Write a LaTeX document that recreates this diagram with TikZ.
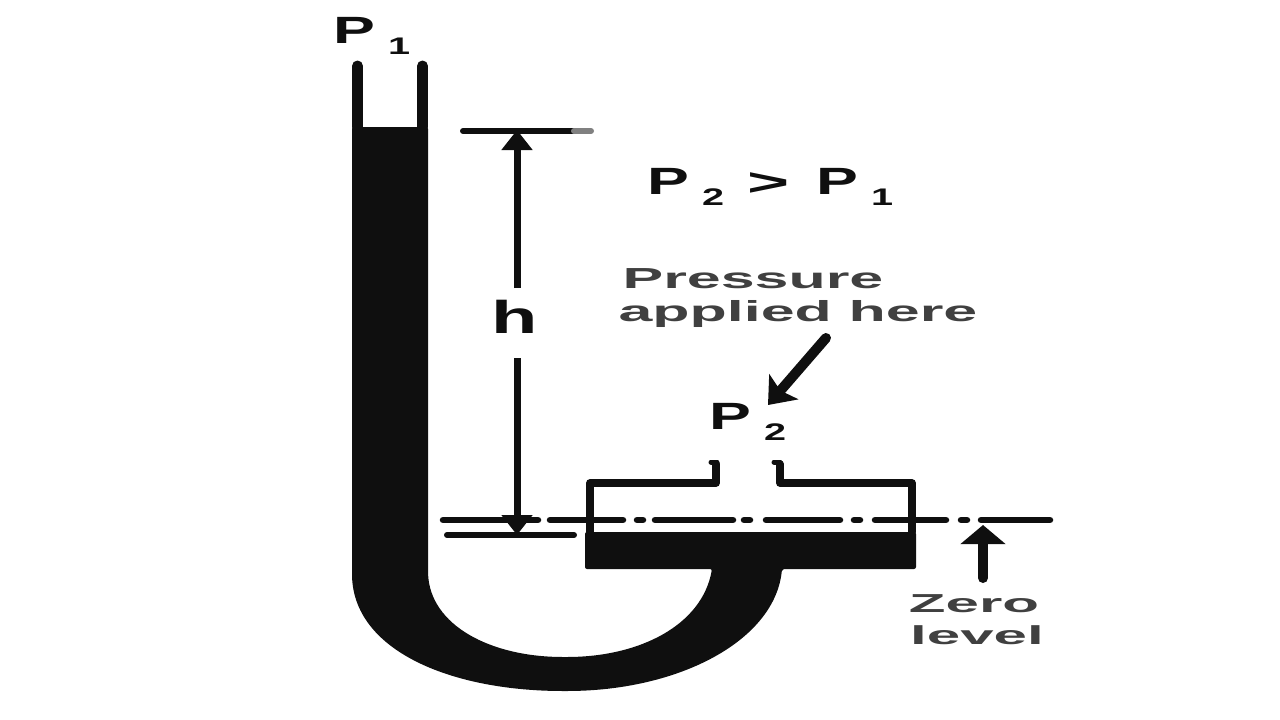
\documentclass[tikz,border=0pt]{standalone}
\usepackage{fontspec}
\setmainfont{Liberation Sans}
\usetikzlibrary{arrows.meta}
\definecolor{ink}{HTML}{0F0F0F}
\definecolor{inkgrey}{HTML}{404040}
\newcommand{\pname}[1]{P\kern0.2em\lower0.55ex\hbox{\fontsize{24}{24}\selectfont #1}}
\tikzset{
    symbol/.style={color=ink, inner sep=0pt, font=\fontsize{38}{38}\selectfont\bfseries, xscale=1.65},
    caption/.style={color=inkgrey, inner sep=0pt, font=\fontsize{29}{29}\selectfont\bfseries, xscale=2.1, text depth=0pt},
    wall/.style={color=ink, line width=11pt, line cap=round},
    thinwall/.style={color=ink, line width=7.5pt, line cap=round, line join=round},
    dim/.style={color=ink, line width=6pt, line cap=round},
    datum/.style={color=ink, line width=6.5pt, line cap=round},
    pointer/.style={color=ink, line width=10pt, line cap=round, -{Stealth[length=24pt,width=38pt,inset=5pt]}},
    dimarrow/.style={color=ink, line width=7pt, -{Triangle[length=20pt,width=30pt]}}
}
\begin{document}
\begin{tikzpicture}[x=1pt,y=-1pt]
    \useasboundingbox (0,0) rectangle (1280,720);

    % fluid
    \fill[ink, rounded corners=2pt] (352,127) -- (428,127) -- (428,572)
        .. controls (430,625) and (490,657) .. (565,657)
        .. controls (640,657) and (702,625) .. (712,569)
        -- (585,569) -- (585,532) -- (916,532) -- (916,569) -- (782,569)
        .. controls (775,640) and (680,691) .. (565,691)
        .. controls (450,691) and (352,650) .. (352,572) -- cycle;

    % open limb
    \draw[wall] (357.5,66) -- (357.5,127);
    \draw[wall] (422.5,66) -- (422.5,127);

    % reservoir
    \draw[thinwall] (590,532) -- (590,483) -- (716,483) -- (716,464);
    \draw[thinwall] (780,464) -- (780,483) -- (912,483) -- (912,532);
    \draw[thinwall, line width=5pt] (711,462) -- (717,462);
    \draw[thinwall, line width=5pt] (774,462) -- (780,462);

    % zero level
    \foreach \xa/\xb in {443/538, 550/623, 655/733, 766/840, 875/946, 981/1050}
        \draw[datum] (\xa,520) -- (\xb,520);
    \foreach \xa in {640, 747, 857, 964}
        \draw[datum] (\xa-3,520) -- (\xa+3,520);
    \draw[dim] (447,535) -- (574,535);

    % height
    \node[symbol, font=\fontsize{46}{46}\selectfont\bfseries] (hlabel) at (515,317) {h};
    \coordinate (levelone) at (517,130);
    \coordinate (leveltwo) at (517,535);
    \coordinate (hup) at (517,288);
    \coordinate (hdown) at (517,358);
    \draw[dim] (463,131) -- (574,131);
    \draw[dim, color=black!50] (574,131) -- (591,131);
    \draw[dimarrow] (hup) -- (levelone);
    \draw[dimarrow] (hdown) -- (leveltwo);

    % labels
    \node[symbol] (pone) at (372,36) {\pname{1}};
    \node[symbol] (ptwo) at (748,422) {\pname{2}};
    \node[symbol] (ptwoleft) at (686,187) {\pname{2}};
    \node[symbol, xscale=1.15] (greater) at (769,184) {>};
    \node[symbol] (poneright) at (855,187) {\pname{1}};

    \node[caption] (pressure) at (753,279) {Pressure};
    \node[caption] (applied) at (798,311) {applied here};
    \node[caption, font=\fontsize{26}{26}\selectfont\bfseries, xscale=1.1] (zero) at (974,604) {Zero};
    \node[caption, font=\fontsize{26}{26}\selectfont\bfseries, xscale=1.1] (level) at (977,635) {level};

    \coordinate (ptwostart) at (826,338);
    \coordinate (ptwotip) at (768,405);
    \draw[pointer] (ptwostart) -- (ptwotip);
    \coordinate (zerostart) at (983,578);
    \coordinate (zerotip) at (983,525);
    \draw[pointer, -{Triangle[length=19pt,width=44pt]}] (zerostart) -- (zerotip);
\end{tikzpicture}
\end{document}
